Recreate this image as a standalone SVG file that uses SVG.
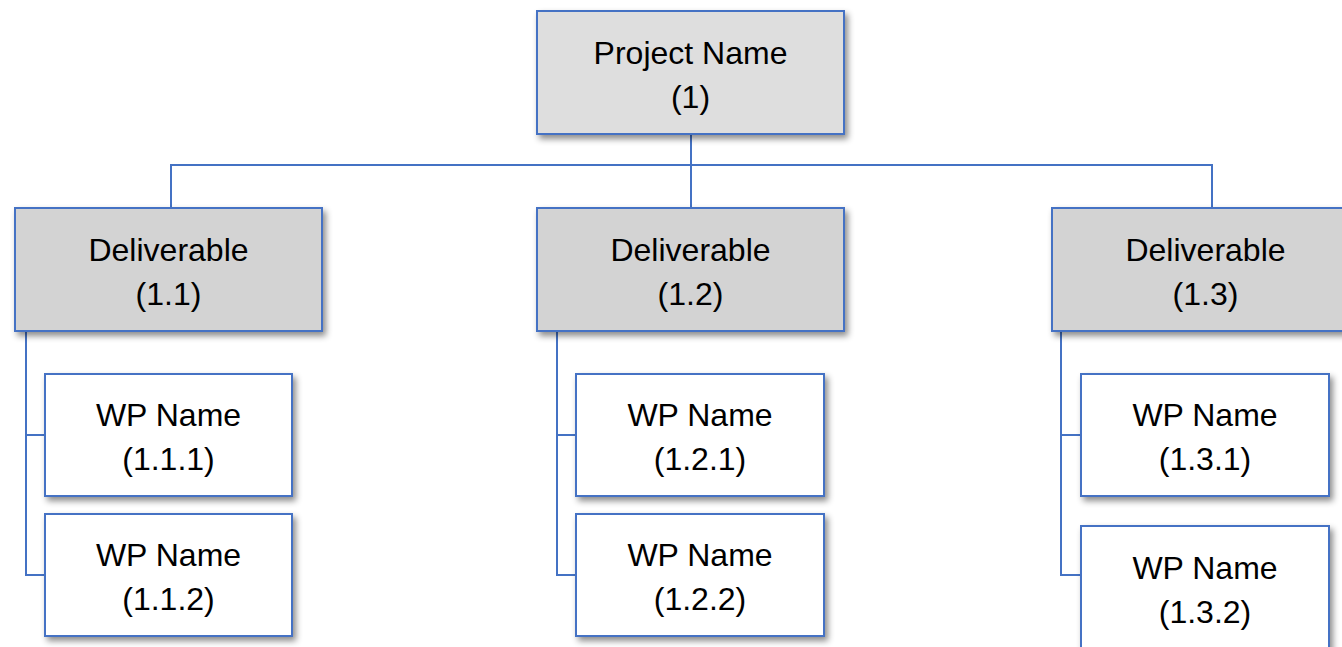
<svg xmlns="http://www.w3.org/2000/svg" width="1342" height="647" viewBox="0 0 1342 647">
<defs>
<filter id="sh" x="-10%" y="-10%" width="130%" height="140%">
<feDropShadow dx="3" dy="4" stdDeviation="3" flood-color="#000" flood-opacity="0.45"/>
</filter>
<style>
.box{stroke:#4472c4;stroke-width:2;filter:url(#sh)}
.top{fill:#dedede}
.del{fill:#d3d3d3}
.wp{fill:#ffffff}
.t{font-family:"Liberation Sans",Arial,sans-serif;font-size:32px;fill:#000;text-anchor:middle}
.c{fill:none;stroke:#4472c4;stroke-width:2}
</style>
</defs>
<rect width="1342" height="647" fill="#fff"/>
<g id="connectors">
<path class="c" d="M691 134 V208"/>
<path class="c" d="M171 208 V165 H1212 V208"/>
<path class="c" d="M26 331 V575 H45 M26 435 H45"/>
<path class="c" d="M557 331 V575 H576 M557 435 H576"/>
<path class="c" d="M1061 331 V575 H1081 M1061 435 H1081"/>
</g>
<g id="n1">
<rect class="box top" x="537" y="11" width="307" height="123"/>
<text class="t" x="690.5" y="64">Project Name</text>
<text class="t" x="690.5" y="108">(1)</text>
</g>
<g id="n1_1">
<rect class="box del" x="15" y="208" width="307" height="123"/>
<text class="t" x="168.5" y="261">Deliverable</text>
<text class="t" x="168.5" y="305">(1.1)</text>
</g>
<g id="n1_2">
<rect class="box del" x="537" y="208" width="307" height="123"/>
<text class="t" x="690.5" y="261">Deliverable</text>
<text class="t" x="690.5" y="305">(1.2)</text>
</g>
<g id="n1_3">
<rect class="box del" x="1052" y="208" width="307" height="123"/>
<text class="t" x="1205.5" y="261">Deliverable</text>
<text class="t" x="1205.5" y="305">(1.3)</text>
</g>
<g id="n1_1_1">
<rect class="box wp" x="45" y="374" width="247" height="122"/>
<text class="t" x="168.5" y="426">WP Name</text>
<text class="t" x="168.5" y="470">(1.1.1)</text>
</g>
<g id="n1_1_2">
<rect class="box wp" x="45" y="514" width="247" height="122"/>
<text class="t" x="168.5" y="566">WP Name</text>
<text class="t" x="168.5" y="610">(1.1.2)</text>
</g>
<g id="n1_2_1">
<rect class="box wp" x="576" y="374" width="248" height="122"/>
<text class="t" x="700" y="426">WP Name</text>
<text class="t" x="700" y="470">(1.2.1)</text>
</g>
<g id="n1_2_2">
<rect class="box wp" x="576" y="514" width="248" height="122"/>
<text class="t" x="700" y="566">WP Name</text>
<text class="t" x="700" y="610">(1.2.2)</text>
</g>
<g id="n1_3_1">
<rect class="box wp" x="1081" y="374" width="248" height="122"/>
<text class="t" x="1205" y="426">WP Name</text>
<text class="t" x="1205" y="470">(1.3.1)</text>
</g>
<g id="n1_3_2">
<rect class="box wp" x="1081" y="526" width="248" height="135"/>
<text class="t" x="1205" y="579">WP Name</text>
<text class="t" x="1205" y="623">(1.3.2)</text>
</g>
</svg>
